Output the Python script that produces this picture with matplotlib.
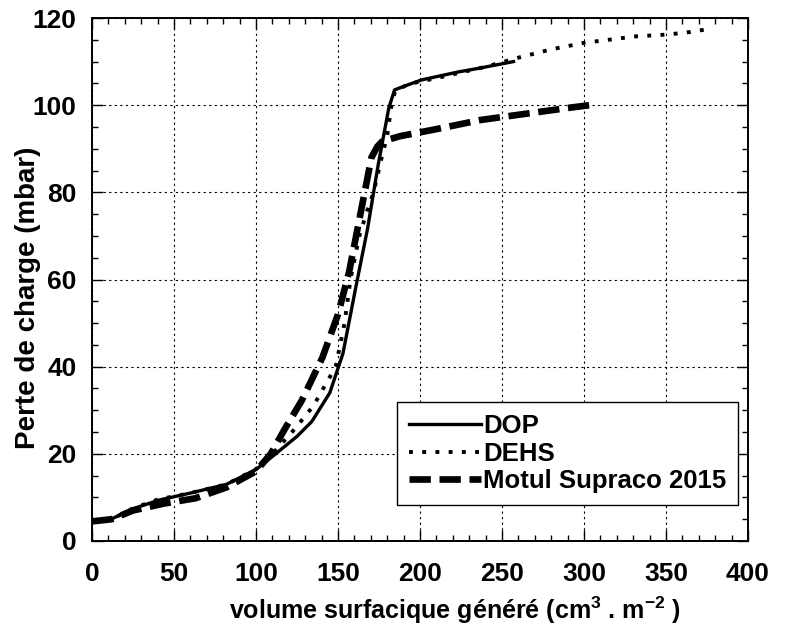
"""Perte de charge en fonction du volume surfacique genere (DOP, DEHS, Motul)."""

import matplotlib
matplotlib.use('Agg')
import matplotlib.pyplot as plt
from matplotlib.ticker import MultipleLocator

# DOP (solid line)
dop_x = [0, 11, 25, 41, 60, 82, 100, 112, 125, 134, 145, 153, 161, 168,
         174.5, 181, 184.5, 190, 201, 212, 223, 235, 246, 257]
dop_y = [4.3, 4.9, 7.4, 9.4, 11, 13, 16.4, 20, 24, 27.4, 34, 43, 58.5, 71.6,
         86.3, 99.4, 103.5, 104.3, 105.8, 106.7, 107.6, 108.4, 109.2, 110]

# DEHS (dotted line)
dehs_x = [0, 12, 25, 40, 60, 82, 100, 110, 122, 135, 148.6, 154, 157.6, 163,
          168, 171.7, 176, 180, 182.6, 185, 195, 210, 225, 240, 260, 280,
          300, 332, 351, 365, 378]
dehs_y = [4.5, 5, 7.5, 9.5, 11, 13, 16.5, 20, 25, 31, 40, 50, 60, 70,
          76, 80, 87, 93, 100, 103.5, 105, 106.2, 107.5, 108.8, 110.9, 112.8,
          114.3, 115.8, 116.2, 116.8, 117.6]

# Motul Supraco 2015 (thick dashed line)
motul_x = [0, 12, 25, 44, 63, 82, 100, 109, 118, 128, 140.5, 150, 156.8,
           163.6, 170.4, 174, 177, 188, 210, 237, 264, 291, 307.6]
motul_y = [4.5, 5, 7, 8.6, 9.8, 12.3, 16, 20, 26, 32.3, 42.1, 52, 61.8,
           74.9, 88, 90.5, 91.7, 92.9, 94.5, 96.6, 98, 99.4, 100.2]

plt.rcParams['font.family'] = ['Liberation Sans', 'DejaVu Sans']
plt.rcParams['font.weight'] = 'bold'
plt.rcParams['axes.labelweight'] = 'bold'
plt.rcParams['mathtext.default'] = 'regular'

fig = plt.figure(figsize=(7.87, 6.33), dpi=100)
ax = fig.add_axes([92 / 787, 1 - 541 / 633, (748 - 92) / 787, (541 - 18) / 633])

ax.plot(dop_x, dop_y, color='black', linewidth=2.4, label='DOP')
ax.plot(dehs_x, dehs_y, color='black', linewidth=2.8, linestyle=(0, (1.0, 2.4)),
        label='DEHS')
ax.plot(motul_x, motul_y, color='black', linewidth=4.8, linestyle=(0, (3.2, 1.3)),
        label='Motul Supraco 2015')

ax.set_xlim(0, 400)
ax.set_ylim(0, 120)
ax.xaxis.set_major_locator(MultipleLocator(50))
ax.xaxis.set_minor_locator(MultipleLocator(10))
ax.yaxis.set_major_locator(MultipleLocator(20))
ax.yaxis.set_minor_locator(MultipleLocator(5))
ax.tick_params(which='both', direction='in', top=True, right=True, width=1)
ax.tick_params(which='major', length=8, labelsize=19)
ax.tick_params(axis='x', which='major', pad=15)
ax.tick_params(axis='y', which='major', pad=11)
ax.tick_params(which='minor', length=4)
for s in ax.spines.values():
    s.set_linewidth(1.4)

ax.grid(True, which='major', color='black', linestyle=(0, (2, 3)), linewidth=0.8)

ax.set_xlabel('volume surfacique généré (cm$^{3}$ . m$^{-2}$ )', fontsize=18)
ax.xaxis.set_label_coords(0.553, -0.103)
ax.set_ylabel('Perte de charge (mbar)', fontsize=20)
ax.yaxis.set_label_coords(-0.078, 0.465)

leg = ax.legend(loc='lower right', bbox_to_anchor=(738 / 787, 1 - 505 / 633),
                bbox_transform=fig.transFigure, fontsize=18.5, frameon=True,
                fancybox=False, edgecolor='black', framealpha=1,
                handlelength=2.8, handletextpad=0.1, labelspacing=0.15,
                borderpad=0.45, borderaxespad=0)
leg.get_frame().set_linewidth(1.0)

fig.savefig('out.png', dpi=100)
